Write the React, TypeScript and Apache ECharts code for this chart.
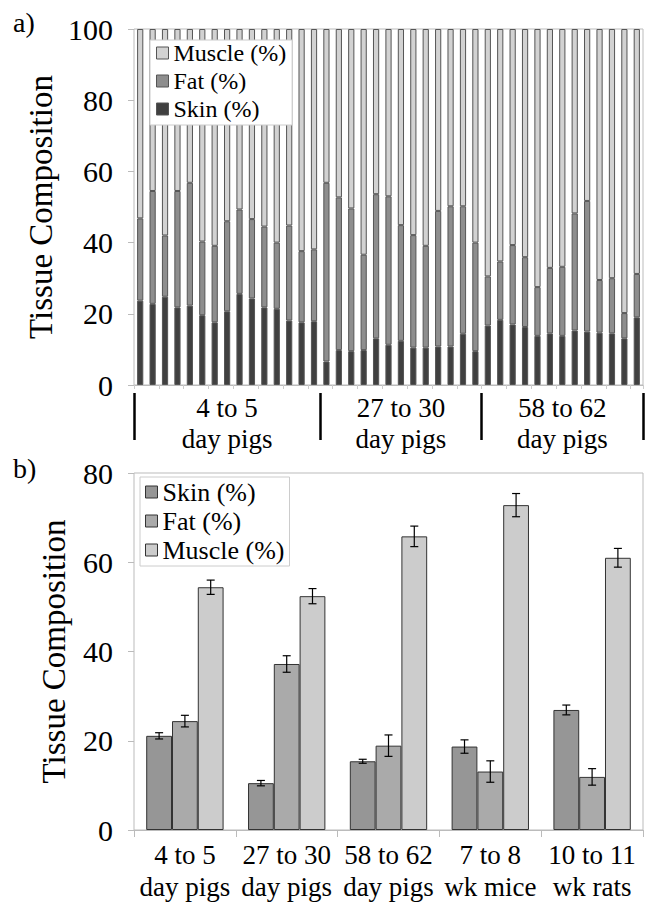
import React, { useEffect, useRef } from 'react';
import * as echarts from 'echarts';

const FONT = 'Liberation Serif';

// ---- Panel a) : individual samples (stacked) ----
const sampleIds = [
  '1', '2', '3', '4', '5', '6', '7', '8', '9', '10', '11', '12', '13', '14', '15',
  '16', '17', '18', '19', '20', '21', '22', '23', '24', '25', '26', '27', '28',
  '29', '30', '31', '32', '33', '34', '35', '36', '37', '38', '39', '40', '41',
];
const groupNames = ['4 to 5\nday pigs', '27 to 30\nday pigs', '58 to 62\nday pigs'];
const groupBounds = [0, 15, 28, 41];
const groupCenters = [7.5, 21.5, 34.5];

const skinA = [
  23.7, 22.8, 24.8, 21.8, 22.3, 19.6, 17.6, 20.7, 25.6, 24.3, 21.8, 21.4, 18.1, 17.6, 17.9,
  6.6, 9.8, 9.5, 9.8, 13.1, 11.3, 12.4, 10.5, 10.5, 10.8, 10.8, 14.4, 9.5,
  16.7, 18.3, 17.0, 16.3, 13.8, 14.5, 13.8, 15.3, 15.0, 14.7, 14.5, 13.1, 19.0,
];
const fatA = [
  23.1, 31.7, 17.2, 32.7, 34.5, 20.7, 21.5, 25.3, 23.7, 22.3, 22.7, 18.6, 26.7, 20.0, 20.2,
  50.2, 42.9, 40.1, 26.8, 40.5, 41.7, 32.5, 31.6, 28.6, 38.1, 39.4, 35.8, 30.5,
  13.8, 16.4, 22.3, 19.6, 13.7, 18.4, 19.4, 32.9, 36.7, 14.8, 15.5, 7.1, 12.2,
];
const muscleA = [
  53.2, 45.5, 58.0, 45.5, 43.2, 59.7, 60.9, 54.0, 50.7, 53.4, 55.5, 60.0, 55.2, 62.4, 61.9,
  43.2, 47.3, 50.4, 63.4, 46.4, 47.0, 55.1, 57.9, 60.9, 51.1, 49.8, 49.8, 60.0,
  69.5, 65.3, 60.7, 64.1, 72.5, 67.1, 66.8, 51.8, 48.3, 70.5, 70.0, 79.8, 68.8,
];

// ---- Panel b) : group means with error bars ----
const categoriesB = [
  '4 to 5\nday pigs', '27 to 30\nday pigs', '58 to 62\nday pigs', '7 to 8\nwk mice', '10 to 11\nwk rats',
];
const skinB = [21.1, 10.5, 15.4, 18.7, 26.9];
const skinErrB = [0.7, 0.6, 0.45, 1.5, 1.1];
const fatB = [24.4, 37.2, 18.9, 13.1, 11.9];
const fatErrB = [1.3, 1.85, 2.4, 2.4, 1.85];
const muscleB = [54.4, 52.4, 65.8, 72.8, 61.0];
const muscleErrB = [1.6, 1.7, 2.3, 2.6, 2.1];

const COL_A = { skin: '#404040', fat: '#8e8e8e', muscle: '#d2d2d2', border: '#555' };
const COL_B = { skin: '#969696', fat: '#aaaaaa', muscle: '#cccccc', border: '#333' };
const BAR_GAP_B = 0.24;

function errSeries(vals: number[], errs: number[], off: number) {
  return {
    type: 'custom',
    xAxisIndex: 2,
    yAxisIndex: 1,
    z: 5,
    silent: true,
    data: vals.map((v, i) => [i, v, errs[i]]),
    encode: { x: 0, y: 1 },
    renderItem: (_params: any, api: any) => {
      const i = api.value(0);
      const v = api.value(1);
      const e = api.value(2);
      const band = api.size([1, 0])[0];
      const bw = (band * (1 - BAR_GAP_B)) / 3;
      const x = api.coord([i, v])[0] + off * bw;
      const yT = api.coord([i, v + e])[1];
      const yB = api.coord([i, v - e])[1];
      const st = { stroke: '#000', lineWidth: 1.2 };
      return {
        type: 'group',
        children: [
          { type: 'line', shape: { x1: x, y1: yT, x2: x, y2: yB }, style: st },
          { type: 'line', shape: { x1: x - 4, y1: yT, x2: x + 4, y2: yT }, style: st },
          { type: 'line', shape: { x1: x - 4, y1: yB, x2: x + 4, y2: yB }, style: st },
        ],
      };
    },
  };
}

export default function App() {
  const ref = useRef<HTMLDivElement>(null);
  useEffect(() => {
    if (!ref.current) return;
    const chart = echarts.init(ref.current, undefined, { renderer: 'svg' });
    const barA = (name: string, data: number[], color: string) => ({
      name,
      type: 'bar',
      stack: 'a',
      xAxisIndex: 0,
      yAxisIndex: 0,
      data,
      barCategoryGap: '50%',
      itemStyle: { color, borderColor: COL_A.border, borderWidth: 1 },
    });
    const barB = (name: string, data: number[], color: string) => ({
      name,
      type: 'bar',
      xAxisIndex: 2,
      yAxisIndex: 1,
      data,
      barGap: '0%',
      barCategoryGap: BAR_GAP_B * 100 + '%',
      itemStyle: { color, borderColor: COL_B.border, borderWidth: 1 },
    });
    const yAxisCommon = {
      type: 'value',
      min: 0,
      interval: 20,
      name: 'Tissue Composition',
      nameLocation: 'middle',
      nameGap: 64,
      nameTextStyle: { fontSize: 33, fontFamily: FONT, color: '#000' },
      axisLine: { show: false },
      axisTick: { show: true, length: 6, lineStyle: { color: '#bbb' } },
      splitLine: { show: false },
      axisLabel: { fontSize: 30, fontFamily: FONT, color: '#000', margin: 21 },
    };
    const option: any = {
      animation: false,
      backgroundColor: '#fff',
      textStyle: { fontFamily: FONT },
      grid: [
        { left: 134, right: 9, top: 29, height: 356, show: true, borderColor: '#bbb', borderWidth: 1, backgroundColor: 'transparent' },
        { left: 134, right: 9, top: 473, height: 360, show: true, borderColor: '#bbb', borderWidth: 1, backgroundColor: 'transparent' },
      ],
      xAxis: [
        {
          type: 'category',
          gridIndex: 0,
          data: sampleIds,
          axisLine: { lineStyle: { color: '#bbb' } },
          axisTick: { show: true, length: 4, lineStyle: { color: '#ccc' } },
          axisLabel: { show: false },
        },
        {
          type: 'value',
          gridIndex: 0,
          min: 0,
          max: 41,
          position: 'bottom',
          offset: 8,
          axisLine: { show: false },
          splitLine: { show: false },
          axisTick: { show: true, customValues: groupBounds, length: 47, lineStyle: { color: '#000', width: 2.5 } },
          axisLabel: {
            show: true,
            customValues: groupCenters,
            formatter: (v: number) => groupNames[groupCenters.indexOf(v)] || '',
            margin: -1,
            fontSize: 27,
            lineHeight: 31,
            fontFamily: FONT,
            color: '#000',
          },
        },
        {
          type: 'category',
          gridIndex: 1,
          data: categoriesB,
          axisLine: { lineStyle: { color: '#bbb' } },
          axisTick: { show: true, length: 7, lineStyle: { color: '#bbb' } },
          axisLabel: { fontSize: 27, lineHeight: 32, fontFamily: FONT, color: '#000', margin: 9, interval: 0 },
        },
      ],
      yAxis: [
        { ...yAxisCommon, gridIndex: 0, max: 100 },
        { ...yAxisCommon, gridIndex: 1, max: 80 },
      ],
      legend: [
        {
          orient: 'vertical',
          left: 150,
          top: 40,
          icon: 'rect',
          itemWidth: 12,
          itemHeight: 12,
          itemGap: 4,
          padding: [1, 6, 4, 6],
          borderColor: '#ccc',
          borderWidth: 1,
          backgroundColor: '#fff',
          selectedMode: false,
          textStyle: { fontSize: 24, fontFamily: FONT, color: '#000' },
          data: [
            { name: 'Muscle (%)', itemStyle: { color: COL_A.muscle, borderColor: COL_A.border, borderWidth: 1 } },
            { name: 'Fat (%)', itemStyle: { color: COL_A.fat, borderColor: COL_A.border, borderWidth: 1 } },
            { name: 'Skin (%)', itemStyle: { color: COL_A.skin, borderColor: COL_A.border, borderWidth: 1 } },
          ],
        },
        {
          orient: 'vertical',
          left: 140,
          top: 477,
          icon: 'rect',
          itemWidth: 12,
          itemHeight: 12,
          itemGap: 3,
          padding: [2, 5, 3, 5],
          borderColor: '#ccc',
          borderWidth: 1,
          backgroundColor: '#fff',
          selectedMode: false,
          textStyle: { fontSize: 26, fontFamily: FONT, color: '#000' },
          data: [
            { name: 'Skin (%)', itemStyle: { color: COL_B.skin, borderColor: COL_B.border, borderWidth: 1 } },
            { name: 'Fat (%)', itemStyle: { color: COL_B.fat, borderColor: COL_B.border, borderWidth: 1 } },
            { name: 'Muscle (%)', itemStyle: { color: COL_B.muscle, borderColor: COL_B.border, borderWidth: 1 } },
          ],
        },
      ],
      graphic: [
        { type: 'text', style: { x: 13, y: 22, text: 'a)', fontSize: 28, fontFamily: FONT, fill: '#000', verticalAlign: 'middle' } },
        { type: 'text', style: { x: 13, y: 468, text: 'b)', fontSize: 28, fontFamily: FONT, fill: '#000', verticalAlign: 'middle' } },
      ],
      series: [
        barA('Skin (%)', skinA, COL_A.skin),
        barA('Fat (%)', fatA, COL_A.fat),
        barA('Muscle (%)', muscleA, COL_A.muscle),
        barB('Skin (%)', skinB, COL_B.skin),
        barB('Fat (%)', fatB, COL_B.fat),
        barB('Muscle (%)', muscleB, COL_B.muscle),
        errSeries(skinB, skinErrB, -1),
        errSeries(fatB, fatErrB, 0),
        errSeries(muscleB, muscleErrB, 1),
      ],
    };
    chart.setOption(option);
    return () => chart.dispose();
  }, []);
  return (
    <div
      ref={ref}
      style={{ position: 'absolute', left: 0, top: 0, width: 652, height: 903, background: '#fff' }}
    />
  );
}
